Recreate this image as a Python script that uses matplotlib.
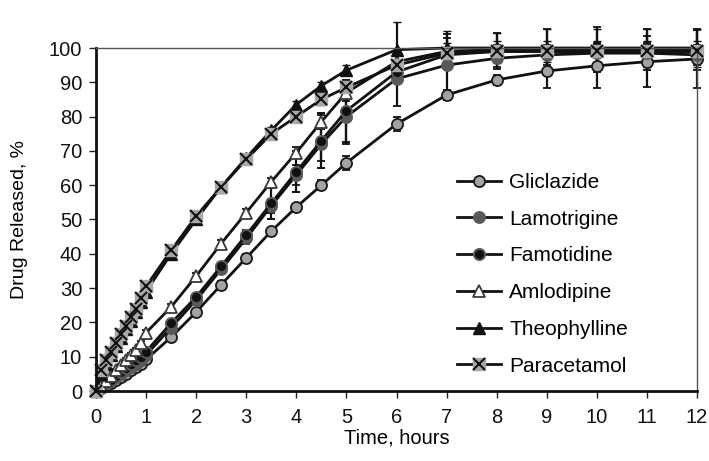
import matplotlib.pyplot as plt
from matplotlib.lines import Line2D
from matplotlib.legend_handler import HandlerTuple

plt.rcParams['font.family'] = ['Liberation Sans', 'DejaVu Sans']
plt.rcParams['font.size'] = 14.5

# sampling times, hours
time_h = [0, 0.1, 0.2, 0.3, 0.4, 0.5, 0.6, 0.7, 0.8, 0.9, 1,
          1.5, 2, 2.5, 3, 3.5, 4, 4.5, 5, 6, 7, 8, 9, 10, 11, 12]

# cumulative release, %
gliclazide = [0, 0.8, 1.6, 2.4, 3.2, 4.1, 5.0, 6.0, 7.0, 8.0, 9.2,
              15.7, 23, 31, 38.8, 46.6, 53.6, 60, 66.5, 77.8, 86.3, 90.7, 93.3, 94.8, 96, 96.8]
lamotrigine = [0, 1, 2, 3, 4, 5, 6, 7, 8, 9, 10.5,
               18.5, 26.5, 35.5, 44.5, 54, 63, 72, 80, 91, 95, 97, 98, 98.5, 98.5, 98]
famotidine = [0, 1.1, 2.2, 3.3, 4.4, 5.5, 6.6, 7.8, 9, 10, 11.5,
              19.8, 27.4, 36.4, 45.5, 54.7, 63.9, 73, 81.7, 93, 98, 99, 99, 99, 99, 99]
amlodipine = [0, 1.5, 3, 4.5, 6, 7.5, 9, 10.5, 12, 14, 17,
              24.5, 33.5, 43, 52, 61, 69.5, 78.5, 87, 96, 99, 99.5, 99.5, 99.5, 99.5, 99.5]
theophylline = [0, 5, 8, 10.5, 13, 15.5, 18, 20.5, 23, 26, 29,
                40, 50, 59.5, 68, 76, 83.5, 89, 93.5, 99.5, 100, 100, 100, 100, 100, 100]
paracetamol = [0, 6, 9, 11.5, 14, 16.5, 19, 21.5, 24, 27, 30.5,
               41, 51, 59.5, 67.5, 75, 80, 85, 88.5, 95, 98.5, 99, 99, 99, 99, 99]

# standard deviations
gliclazide_sd = [0, .3, .3, .3, .3, .4, .4, .5, .5, .5, .8,
                 1, 1, 1, 1, 1, 1, 1.5, 2, 2, 1.5, 1.5, 5, 6.5, 7.5, 8.5]
lamotrigine_sd = [0, .3, .3, .3, .4, .4, .5, .5, .5, .6, .8,
                  1, 1, 1, 1.5, 2, 3, 5, 8, 8, 9, 3, 3, 3, 3, 3]
famotidine_sd = [0, .3, .3, .3, .4, .4, .5, .5, .5, .6, .8,
                 1, 1, 1, 1.5, 4.5, 6, 8, 9, 3, 2, 2, 2, 2, 2, 2]
amlodipine_sd = [0, .3, .3, .3, .4, .4, .5, .5, .5, .6, .8,
                 1, 1, 1, 1, 1, 1.5, 2, 2.5, 3, 4, 5, 6, 6.5, 6, 6]
theophylline_sd = [0, .3, .3, .3, .4, .4, .5, .5, .5, .6, .8,
                   1, 1, 1, 1, 1, 1, 1, 1.5, 8, 5, 4.5, 5.5, 5.5, 5.5, 5.5]
paracetamol_sd = [0, .3, .3, .3, .4, .4, .5, .5, .5, .6, 1,
                  1, 1, 1, 1, 1.5, 1.5, 1.5, 2, 3, 3, 3, 3, 3, 3, 3]

fig = plt.figure(figsize=(7.09, 4.61), dpi=100)
ax = fig.add_axes([96 / 709, 70 / 461, 601 / 709, 343 / 461])

styles = [
    ("Gliclazide", gliclazide, gliclazide_sd, dict(marker='o', mfc='#a3a3a3', mec='#1a1a1a', ms=8, mew=1.3)),
    ("Lamotrigine", lamotrigine, lamotrigine_sd, dict(marker='o', mfc='#595959', mec='#595959', ms=8, mew=1.3)),
    ("Famotidine", famotidine, famotidine_sd, dict(marker='o', mfc='#111111', mec='#5a5a5a', ms=8, mew=1.4)),
    ("Amlodipine", amlodipine, amlodipine_sd, dict(marker='^', mfc='white', mec='#3a3a3a', ms=8.5, mew=1.3)),
    ("Theophylline", theophylline, theophylline_sd, dict(marker='^', mfc='#111111', mec='#111111', ms=8.5, mew=1)),
    ("Paracetamol", paracetamol, paracetamol_sd, dict(marker='s', mfc='#a8a8a8', mec='#a8a8a8', ms=8.5, mew=1)),
]

handles = []
for name, vals, sd, st in styles:
    cont = ax.errorbar(time_h, vals, yerr=sd, color='#111111', ecolor='#111111',
                       lw=2, elinewidth=1.6, capsize=3, capthick=1.6, **st)
    line, caps, bars = cont.lines
    line.set_clip_on(False)
    for c in caps:
        c.set_clip_on(False)
    for b in bars:
        b.set_clip_on(False)
    h = Line2D([], [], color='#111111', lw=2, **st)
    if name == "Paracetamol":
        # cross drawn over the grey squares
        ax.plot(time_h, vals, ls='none', marker='x', color='#111111',
                ms=8.5, mew=1.5, clip_on=False, zorder=3)
        hx = Line2D([], [], ls='none', marker='x', color='#111111', ms=8.5, mew=1.5)
        h = (h, hx)
    handles.append(h)

ax.set_xlim(0, 12)
ax.set_ylim(0, 100)
ax.set_xticks(range(0, 13))
ax.set_yticks(range(0, 101, 10))
ax.tick_params(direction='out', length=5, width=1, colors='#222222', labelcolor='#111111')
ax.tick_params(axis='x', pad=7)
ax.tick_params(axis='y', pad=5)

for s in ['left', 'bottom']:
    ax.spines[s].set_linewidth(2)
    ax.spines[s].set_color('#111111')
for s in ['top', 'right']:
    ax.spines[s].set_linewidth(1)
    ax.spines[s].set_color('#555555')

ax.set_xlabel("Time, hours", labelpad=1)
ax.set_ylabel("Drug Released, %", fontsize=14, labelpad=15)

ax.legend(handles, [s[0] for s in styles], frameon=False, fontsize=15,
          handler_map={tuple: HandlerTuple(ndivide=1)},
          loc='upper left', bbox_to_anchor=(457 / 709, 1 - 173 / 461),
          bbox_transform=fig.transFigure, borderpad=0, borderaxespad=0,
          handlelength=2.1, handletextpad=0.4, labelspacing=0.85)

fig.savefig("out.png", dpi=100)
